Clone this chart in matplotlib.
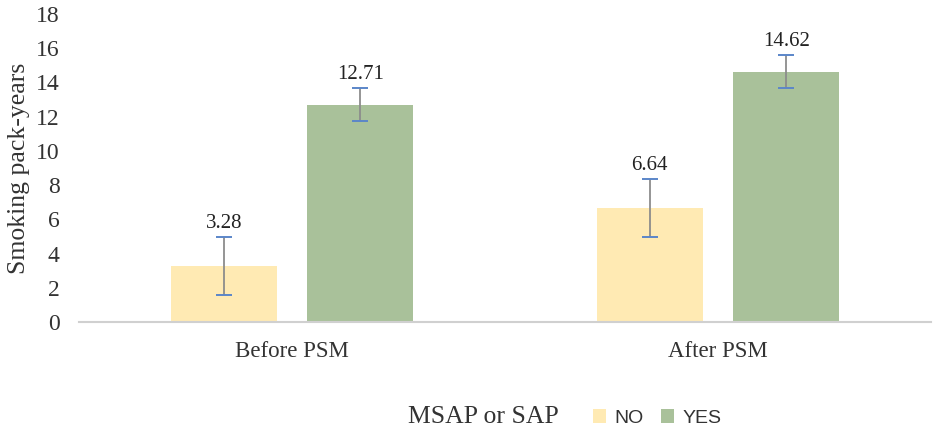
import matplotlib.pyplot as plt
import numpy as np

# data
groups = ["Before PSM", "After PSM"]
no_vals = [3.28, 6.64]
yes_vals = [12.71, 14.62]
no_err = [1.7, 1.7]
yes_err = [0.96, 0.97]

plt.rcParams['font.family'] = ['Liberation Serif', 'DejaVu Serif']

fig = plt.figure(figsize=(9.35, 4.29), dpi=100)
ax = fig.add_axes([0.0845, 0.2494, 0.9112, 0.718])

x = np.arange(len(groups))
w = 0.249
off = 0.16
c_no = "#FFEAB3"
c_yes = "#A9C19A"

b1 = ax.bar(x - off, no_vals, w, color=c_no, label="NO")
b2 = ax.bar(x + off, yes_vals, w, color=c_yes, label="YES")

for xs, vals, errs in [(x - off, no_vals, no_err), (x + off, yes_vals, yes_err)]:
    ax.errorbar(xs, vals, yerr=errs, fmt="none", ecolor="#8C8C8C",
                elinewidth=1.3, capsize=0)
    # blue caps
    for xi, v, e in zip(xs, vals, errs):
        ax.plot([xi], [v + e], marker="_", ms=11, mew=1.4, color="#5B86C9")
        ax.plot([xi], [v - e], marker="_", ms=11, mew=1.4, color="#5B86C9")
        ax.annotate(f"{v:.2f}", (xi, v + e), xytext=(0, 3),
                    textcoords="offset points", ha="center", va="bottom",
                    fontsize=15, color="#222222")

ax.set_xlim(-0.5, 1.5)
ax.set_ylim(0, 18)
ax.set_yticks(range(0, 19, 2))
ax.set_xticks(x)
ax.set_xticklabels(groups, fontsize=16.5, color="#333333")
ax.tick_params(axis="y", labelsize=17, labelcolor="#333333", length=0, pad=14)
ax.tick_params(axis="x", length=0, pad=14)
for s in ["top", "right", "left"]:
    ax.spines[s].set_visible(False)
ax.spines["bottom"].set_color("#D0D0D0")
ax.spines["bottom"].set_linewidth(1.5)
ax.set_ylabel("Smoking pack-years", fontsize=18.5, color="#333333", labelpad=4)

fig.text(0.4365, 0.028, "MSAP or SAP", fontsize=18.5, color="#333333",
         va="center", ha="left")
leg = fig.legend(handles=[b1, b2], labels=["NO", "YES"], ncol=2,
                 loc="center left", bbox_to_anchor=(0.615, 0.026),
                 frameon=False, handlelength=0.7, handleheight=0.7,
                 handletextpad=0.4, columnspacing=0.9,
                 prop={"family": "Liberation Sans", "size": 14})
for t in leg.get_texts():
    t.set_color("#333333")

fig.savefig("out.png", dpi=100)
